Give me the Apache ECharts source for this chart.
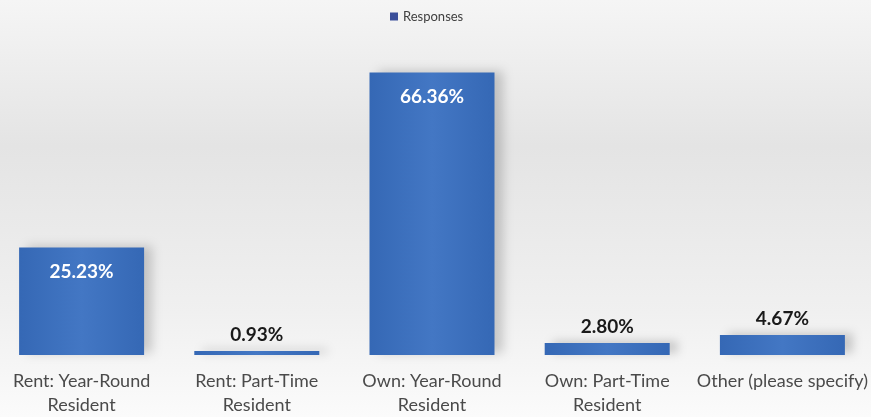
<!DOCTYPE html>
<html><head><meta charset="utf-8">
<script src="https://cdn.jsdelivr.net/npm/echarts@6/dist/echarts.min.js"></script>
<style>html,body{margin:0;padding:0;}#c{width:871px;height:417px;}</style>
</head><body><div id="c"></div>
<script>
var categories = ['Rent: Year-Round\nResident', 'Rent: Part-Time\nResident', 'Own: Year-Round\nResident', 'Own: Part-Time\nResident', 'Other (please specify)'];
var seriesName = 'Responses';
var values = [25.23, 0.93, 66.36, 2.80, 4.67];

var chart = echarts.init(document.getElementById('c'), null, {renderer: 'canvas'});
var barColor = new echarts.graphic.LinearGradient(0, 0, 1, 0, [
  {offset: 0, color: '#3568b5'},
  {offset: 0.5, color: '#4377c4'},
  {offset: 1, color: '#3568b5'}
]);
var data = values.map(function (v) {
  var inside = v > 10;
  return {
    value: v,
    label: inside
      ? {position: 'insideTop', distance: 15, color: '#ffffff'}
      : {position: 'top', distance: 7, color: '#1a1a1a'}
  };
});
chart.setOption({
  backgroundColor: new echarts.graphic.LinearGradient(0, 0, 0, 1, [
    {offset: 0, color: '#f5f5f5'},
    {offset: 0.35, color: '#e4e4e4'},
    {offset: 0.75, color: '#f0f0f0'},
    {offset: 1, color: '#fbfbfb'}
  ]),
  legend: {
    top: 5, left: 385,
    itemWidth: 8, itemHeight: 8, itemGap: 2,
    icon: 'rect',
    textStyle: {fontFamily: 'Lato', fontSize: 13, color: '#404040'},
    data: [{name: seriesName, itemStyle: {color: '#3a4f9a'}}]
  },
  grid: {left: -6, right: 1, top: 40, bottom: 62, outerBoundsMode: 'none', containLabel: false},
  xAxis: {
    type: 'category', data: categories,
    axisLine: {show: false}, axisTick: {show: false},
    axisLabel: {interval: 0, margin: 14, fontFamily: 'Lato', fontSize: 18, color: '#4a4a4a', lineHeight: 24}
  },
  yAxis: {type: 'value', min: 0, max: 74, show: false, splitLine: {show: false}},
  series: [{
    name: seriesName, type: 'bar', barWidth: 125,
    data: data,
    itemStyle: {color: barColor, shadowColor: 'rgba(0,0,0,0.18)', shadowBlur: 10, shadowOffsetX: 8, shadowOffsetY: -2},
    label: {show: true, fontFamily: 'Lato', fontSize: 19, fontWeight: 'bold', formatter: function (p) { return p.value.toFixed(2) + '%'; }}
  }]
});
</script></body></html>
